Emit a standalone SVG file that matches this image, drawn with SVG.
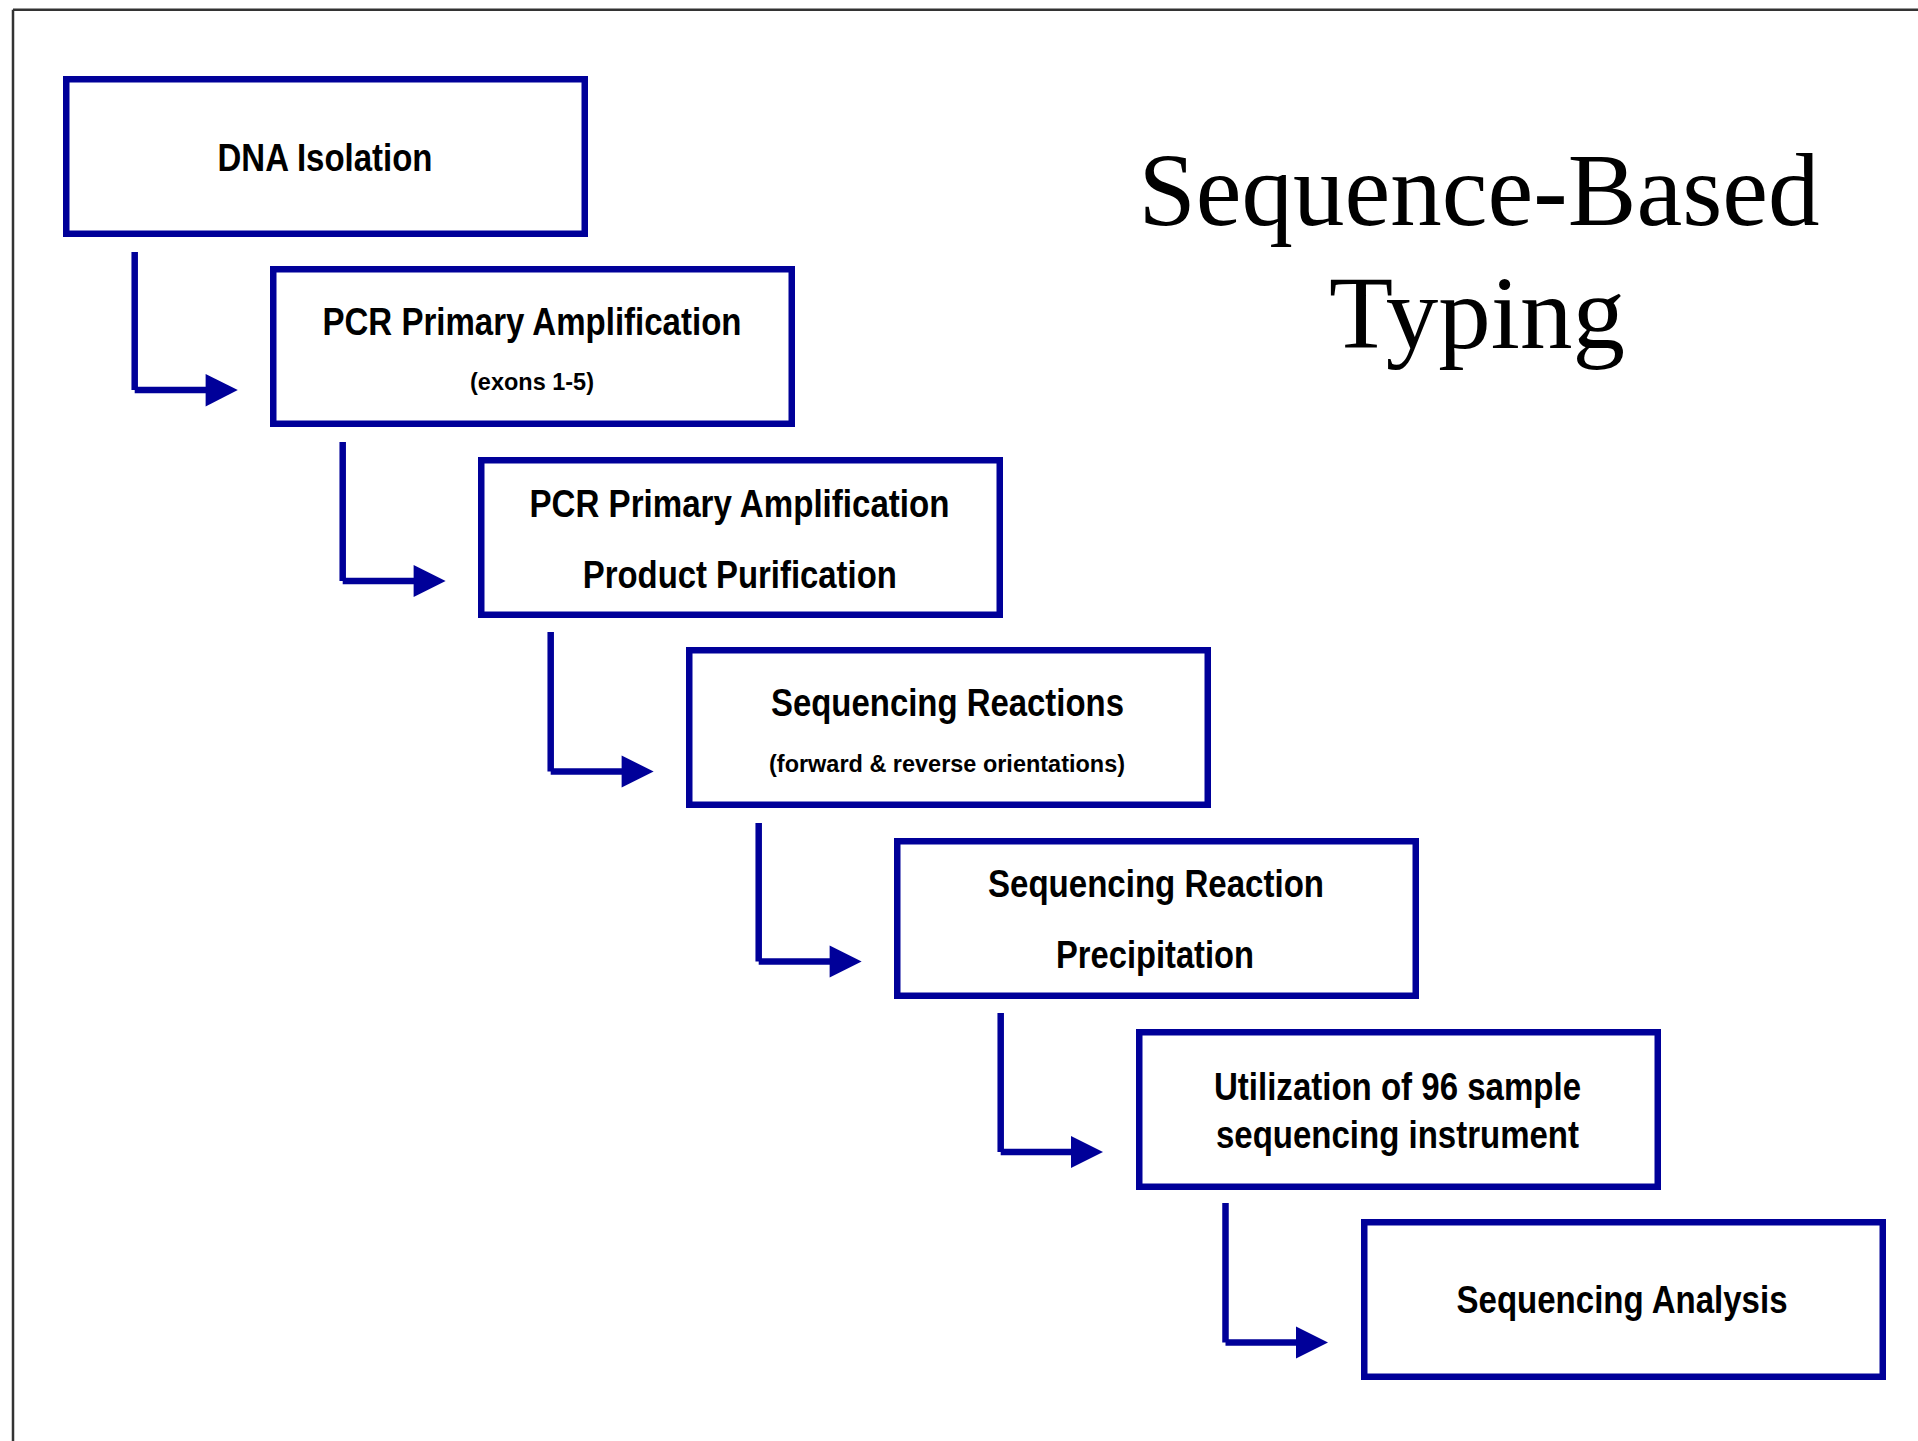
<svg xmlns="http://www.w3.org/2000/svg" width="1918" height="1441" viewBox="0 0 1918 1441">
<style>
.box{fill:#fff;stroke:#000099;stroke-width:6.5}
.t{font-family:"Liberation Sans Narrow","Liberation Sans",Arial,sans-serif;font-weight:bold;font-size:39px;fill:#000;text-anchor:middle}
.s{font-size:24px}
.title{font-family:"Liberation Serif","Times New Roman",serif;font-size:103px;fill:#000;text-anchor:middle}
.ln{stroke:#000099;stroke-width:6.5;fill:none;stroke-linecap:butt}
.ah{fill:#000099}
.frame{stroke:#333;stroke-width:2.5;fill:none}
</style>
<rect x="0" y="0" width="1918" height="1441" fill="#fff"/>
<g id="frame">
<line class="frame" x1="13" y1="9.7" x2="1918" y2="9.7"/>
<line class="frame" x1="13" y1="9.7" x2="13" y2="1441"/>
</g>
<g id="title">
<text class="title" x="1479" y="225" textLength="681" lengthAdjust="spacingAndGlyphs">Sequence-Based</text>
<text class="title" x="1477" y="348" textLength="296" lengthAdjust="spacingAndGlyphs">Typing</text>
</g>
<g id="connectors">
<line class="ln" x1="134.7" y1="252" x2="134.7" y2="390"/>
<line class="ln" x1="134.7" y1="390" x2="206" y2="390"/>
<polygon class="ah" points="205.6,374 237.8,390 205.6,406.5"/>
<line class="ln" x1="342.7" y1="442" x2="342.7" y2="581"/>
<line class="ln" x1="342.7" y1="581" x2="414" y2="581"/>
<polygon class="ah" points="413.6,565 445.6,581 413.6,597"/>
<line class="ln" x1="550.7" y1="632" x2="550.7" y2="771.5"/>
<line class="ln" x1="550.7" y1="771.5" x2="622" y2="771.5"/>
<polygon class="ah" points="621.6,755.5 653.6,771.5 621.6,787.5"/>
<line class="ln" x1="758.7" y1="823" x2="758.7" y2="961.5"/>
<line class="ln" x1="758.7" y1="961.5" x2="830" y2="961.5"/>
<polygon class="ah" points="829.6,945.5 861.6,961.5 829.6,977.5"/>
<line class="ln" x1="1000.7" y1="1013" x2="1000.7" y2="1152"/>
<line class="ln" x1="1000.7" y1="1152" x2="1072" y2="1152"/>
<polygon class="ah" points="1071,1136 1103,1152 1071,1168"/>
<line class="ln" x1="1225.5" y1="1203" x2="1225.5" y2="1342.5"/>
<line class="ln" x1="1225.5" y1="1342.5" x2="1297" y2="1342.5"/>
<polygon class="ah" points="1296,1326.5 1328,1342.5 1296,1358.5"/>
</g>
<g id="node-dna-isolation">
<rect class="box" x="66.25" y="79.25" width="518.5" height="154.5"/>
<text class="t" x="325" y="171" textLength="215" lengthAdjust="spacingAndGlyphs">DNA Isolation</text>
</g>
<g id="node-pcr-amplification">
<rect class="box" x="273.25" y="269.25" width="518.5" height="154.5"/>
<text class="t" x="532" y="335" textLength="419" lengthAdjust="spacingAndGlyphs">PCR Primary Amplification</text>
<text class="t s" x="532" y="390" textLength="124" lengthAdjust="spacingAndGlyphs">(exons 1-5)</text>
</g>
<g id="node-pcr-purification">
<rect class="box" x="481.25" y="460.25" width="518.5" height="154.5"/>
<text class="t" x="739.5" y="516.5" textLength="420" lengthAdjust="spacingAndGlyphs">PCR Primary Amplification</text>
<text class="t" x="739.8" y="588" textLength="314" lengthAdjust="spacingAndGlyphs">Product Purification</text>
</g>
<g id="node-sequencing-reactions">
<rect class="box" x="689.25" y="650.25" width="518.5" height="154.5"/>
<text class="t" x="947.5" y="716" textLength="353" lengthAdjust="spacingAndGlyphs">Sequencing Reactions</text>
<text class="t s" x="947" y="772" textLength="356" lengthAdjust="spacingAndGlyphs">(forward &amp; reverse orientations)</text>
</g>
<g id="node-precipitation">
<rect class="box" x="897.25" y="841.25" width="518.5" height="154.5"/>
<text class="t" x="1156" y="897" textLength="336" lengthAdjust="spacingAndGlyphs">Sequencing Reaction</text>
<text class="t" x="1155" y="968" textLength="198" lengthAdjust="spacingAndGlyphs">Precipitation</text>
</g>
<g id="node-instrument">
<rect class="box" x="1139.25" y="1032.25" width="518.5" height="154.5"/>
<text class="t" x="1397.5" y="1100" textLength="367" lengthAdjust="spacingAndGlyphs">Utilization of 96 sample</text>
<text class="t" x="1397.5" y="1148" textLength="363" lengthAdjust="spacingAndGlyphs">sequencing instrument</text>
</g>
<g id="node-analysis">
<rect class="box" x="1364.25" y="1222.25" width="518.5" height="154.5"/>
<text class="t" x="1622" y="1313" textLength="331" lengthAdjust="spacingAndGlyphs">Sequencing Analysis</text>
</g>
</svg>
